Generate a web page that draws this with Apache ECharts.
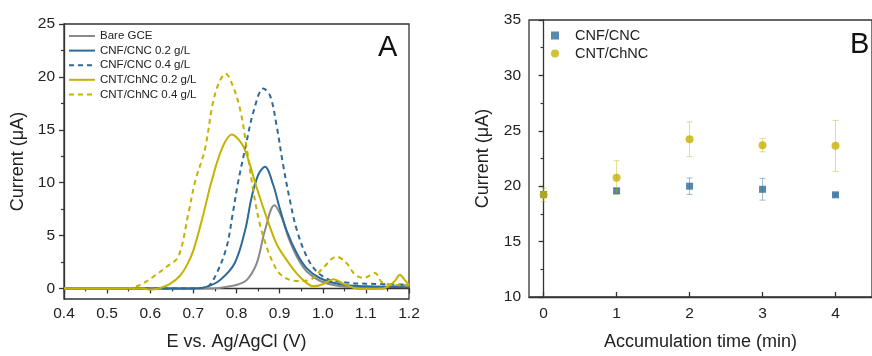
<!DOCTYPE html>
<html>
<head>
<meta charset="utf-8">
<script src="https://cdn.jsdelivr.net/npm/echarts@6/dist/echarts.min.js"></script>
<style>html,body{margin:0;padding:0;background:#fff}#c{width:872px;height:356px}</style>
</head>
<body>
<div id="c"></div>
<script>
// ---- Panel A: DPV curves ----
const bareV = [0.40,0.72,0.76,0.785,0.805,0.824,0.847,0.866,0.888,0.905,0.92,0.94,0.963,0.994,1.04,1.10,1.15,1.20];
const bareI = [0,0,0.05,0.2,0.4,0.8,2.4,5.5,7.87,6.7,4.85,3.0,1.6,0.7,0.2,0.1,0.15,0.35];

const cnf02V = [0.40,0.70,0.73,0.762,0.796,0.82,0.835,0.85,0.866,0.885,0.90,0.916,0.94,0.963,0.994,1.04,1.10,1.20];
const cnf02I = [0,0,0.15,0.8,2.4,5.5,8.6,10.7,11.5,9.8,7.6,5.5,3.3,1.9,0.96,0.4,0.2,0.1];

const cnf04V = [0.40,0.70,0.72,0.735,0.754,0.777,0.791,0.804,0.82,0.84,0.862,0.878,0.893,0.908,0.924,0.94,0.963,0.986,1.017,1.056,1.10,1.20];
const cnf04I = [0,0,0.05,0.2,1.43,3.9,7.0,10.1,13.2,16.8,18.9,18.2,15.4,11.7,8.3,5.5,3.0,1.6,0.8,0.55,0.45,0.35];

const cnt02V = [0.40,0.58,0.60,0.62,0.645,0.669,0.685,0.70,0.723,0.742,0.766,0.789,0.81,0.824,0.847,0.87,0.893,0.916,0.94,0.963,0.978,1.00,1.025,1.05,1.086,1.14,1.165,1.179,1.19,1.20];
const cnt02I = [0,0,-0.1,0,0.4,1.2,2.2,3.6,7.0,10.1,13.2,14.55,13.8,12.6,9.5,6.7,4.2,2.7,1.4,0.5,0.2,0.4,0.87,0.4,-0.05,0,0.6,1.3,0.8,0.3];

const cnt04V = [0.40,0.54,0.56,0.58,0.607,0.638,0.665,0.688,0.704,0.727,0.745,0.76,0.775,0.79,0.808,0.824,0.839,0.854,0.87,0.885,0.90,0.924,0.95,0.975,1.0,1.032,1.055,1.075,1.095,1.121,1.137,1.16,1.20];
const cnt04I = [0,0,0.1,0.4,1.1,2.05,3.0,7.0,10.1,13.2,17.5,19.5,20.3,19.3,17.0,13.2,9.2,6.1,3.9,2.4,1.4,0.8,0.7,0.9,1.9,3.0,2.4,1.3,1.0,1.45,0.6,0.35,0.3];

const seriesNamesA = ['Bare GCE','CNF/CNC 0.2 g/L','CNF/CNC 0.4 g/L','CNT/ChNC 0.2 g/L','CNT/ChNC 0.4 g/L'];
const yTicksA = [0,5,10,15,20,25];
const yMinorA = [2.5,7.5,12.5,17.5,22.5];

// ---- Panel B: accumulation time ----
const timeB = [0,1,2,3,4];
const cnfMean = [19.25,19.58,20.0,19.72,19.22];
const cnfErr  = [0.2,0.22,0.74,0.98,0.12];
const chnMean = [19.22,20.77,24.23,23.70,23.64];
const chnErr  = [0.62,1.53,1.57,0.6,2.3];
const seriesNamesB = ['CNF/CNC','CNT/ChNC'];

const BLUE = '#2d6a98', YELLOW = '#c6b200', GRAY = '#8a8a8a';
const FONT = '"Liberation Sans", Arial, sans-serif';
const AX = '#333';

function zip(a,b){ return a.map((v,i)=>[v,b[i]]); }
function errData(m,e){ return timeB.map((t,i)=>[t, m[i]-e[i], m[i]+e[i]]); }

function errRender(color){
  return function(params, api){
    const x = api.value(0), lo = api.value(1), hi = api.value(2);
    const pt = api.coord([x,hi]), pb = api.coord([x,lo]);
    const c = 3;
    const st = {stroke: color, lineWidth: 1};
    return {type:'group', children:[
      {type:'line', shape:{x1:pt[0],y1:pt[1],x2:pb[0],y2:pb[1]}, style:st},
      {type:'line', shape:{x1:pt[0]-c,y1:pt[1],x2:pt[0]+c,y2:pt[1]}, style:st},
      {type:'line', shape:{x1:pb[0]-c,y1:pb[1],x2:pb[0]+c,y2:pb[1]}, style:st}
    ]};
  };
}

function lineSeries(name, v, i, color, dashed){
  return {
    name, type:'line', xAxisIndex:0, yAxisIndex:0, data: zip(v,i),
    smooth:0.35, symbol:'none', showSymbol:false,
    lineStyle:{color, width:2, type: dashed ? [5,4] : 'solid'},
    itemStyle:{color}, z:3
  };
}

const chart = echarts.init(document.getElementById('c'), null, {renderer:'canvas'});
chart.setOption({
  animation:false,
  textStyle:{fontFamily:FONT},
  grid:[
    {left:64, top:24, right:463, bottom:53, show:true, borderColor:AX, borderWidth:1.3, backgroundColor:'transparent'},
    {left:529, top:20, right:-6, bottom:55, show:true, borderColor:AX, borderWidth:1.3, backgroundColor:'transparent'}
  ],
  legend:[
    {data:seriesNamesA, orient:'vertical', left:68, top:30, padding:0, itemWidth:26, itemHeight:12, itemGap:2.6,
     itemStyle:{opacity:0}, lineStyle:{width:2},
     textStyle:{fontSize:11.5, color:'#222', fontFamily:FONT, lineHeight:12}},
    {data:seriesNamesB, orient:'vertical', left:551, top:28, padding:0, itemWidth:8, itemHeight:8, itemGap:3,
     textStyle:{fontSize:14.5, color:'#222', fontFamily:FONT, lineHeight:15, padding:[0,0,0,11]}}
  ],
  xAxis:[
    {gridIndex:0, type:'value', min:0.4, max:1.2, interval:0.1,
     name:'E vs. Ag/AgCl (V)', nameLocation:'middle', nameGap:34,
     nameTextStyle:{fontSize:18, color:'#222', fontFamily:FONT},
     axisLine:{lineStyle:{color:AX, width:1.3}},
     axisTick:{inside:false, length:5, lineStyle:{color:AX, width:1.3}},
     minorTick:{show:true, splitNumber:2, length:3, lineStyle:{color:AX, width:1.2}},
     axisLabel:{fontSize:15.5, color:'#222', margin:7, formatter:v=>v.toFixed(1)},
     splitLine:{show:false}},
    {gridIndex:1, type:'value', min:-0.2, max:4.5,
     name:'Accumulation time (min)', nameLocation:'middle', nameGap:36,
     nameTextStyle:{fontSize:18, color:'#222', fontFamily:FONT},
     axisLine:{lineStyle:{color:AX, width:1.3}},
     axisTick:{inside:true, length:5, customValues:timeB, lineStyle:{color:AX, width:1.3}},
     axisLabel:{fontSize:15.5, color:'#222', margin:9, customValues:timeB},
     splitLine:{show:false}}
  ],
  yAxis:[
    {gridIndex:0, type:'value', min:-1, max:25,
     name:'Current (\u03bcA)', nameLocation:'middle', nameGap:37,
     nameTextStyle:{fontSize:18, color:'#222', fontFamily:FONT},
     axisLine:{lineStyle:{color:AX, width:1.3}},
     axisTick:{inside:false, length:5, customValues:yTicksA, lineStyle:{color:AX, width:1.3}},
     axisLabel:{fontSize:15.5, color:'#222', margin:9, customValues:yTicksA},
     splitLine:{show:false}},
    {gridIndex:0, type:'value', min:-1, max:25, position:'left',
     axisLine:{show:false},
     axisTick:{inside:false, length:3, customValues:yMinorA, lineStyle:{color:AX, width:1.2}},
     axisLabel:{show:false}, splitLine:{show:false}},
    {gridIndex:1, type:'value', min:10, max:35, interval:5,
     name:'Current (\u03bcA)', nameLocation:'middle', nameGap:37,
     nameTextStyle:{fontSize:18, color:'#222', fontFamily:FONT},
     axisLine:{lineStyle:{color:AX, width:1.3}},
     axisTick:{inside:false, length:5, lineStyle:{color:AX, width:1.3}},
     minorTick:{show:true, splitNumber:2, length:3, lineStyle:{color:AX, width:1.2}},
     axisLabel:{fontSize:15.5, color:'#222', margin:8},
     splitLine:{show:false}}
  ],
  graphic:[
    {type:'text', left:378, top:33, style:{text:'A', font:'29px "Liberation Sans", Arial, sans-serif', fill:'#111'}},
    {type:'text', left:850, top:30, style:{text:'B', font:'29px "Liberation Sans", Arial, sans-serif', fill:'#111'}}
  ],
  series:[
    lineSeries(seriesNamesA[0], bareV, bareI, GRAY, false),
    lineSeries(seriesNamesA[1], cnf02V, cnf02I, BLUE, false),
    lineSeries(seriesNamesA[2], cnf04V, cnf04I, BLUE, true),
    lineSeries(seriesNamesA[3], cnt02V, cnt02I, YELLOW, false),
    lineSeries(seriesNamesA[4], cnt04V, cnt04I, YELLOW, true),
    {type:'custom', xAxisIndex:1, yAxisIndex:2, data:errData(cnfMean,cnfErr),
     renderItem:errRender('rgba(45,106,152,0.45)'), encode:{x:0, y:[1,2]}, z:2, silent:true},
    {name:seriesNamesB[0], type:'scatter', xAxisIndex:1, yAxisIndex:2, data:zip(timeB,cnfMean),
     symbol:'rect', symbolSize:7, itemStyle:{color:BLUE}, z:3},
    {type:'custom', xAxisIndex:1, yAxisIndex:2, data:errData(chnMean,chnErr),
     renderItem:errRender('rgba(198,178,0,0.45)'), encode:{x:0, y:[1,2]}, z:4, silent:true},
    {name:seriesNamesB[1], type:'scatter', xAxisIndex:1, yAxisIndex:2, data:zip(timeB,chnMean),
     symbol:'circle', symbolSize:8, itemStyle:{color:YELLOW}, z:5}
  ]
});
</script>
</body>
</html>
